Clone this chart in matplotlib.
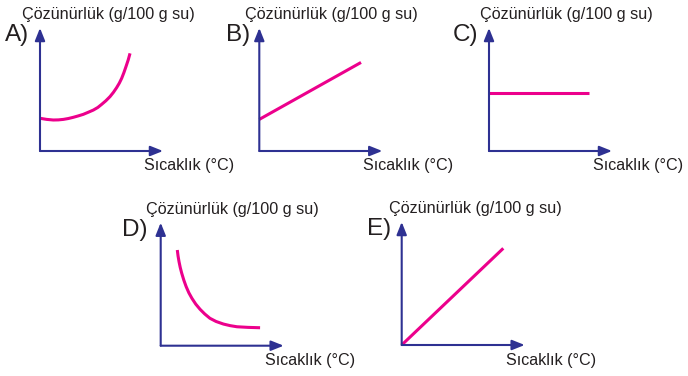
import numpy as np
import matplotlib.pyplot as plt

plt.rcParams['font.family'] = ['Liberation Sans', 'DejaVu Sans']

W, H = 688, 376
AXIS_BLUE = '#2E3192'
CURVE_PINK = '#EC008C'

# data (axis units 0..10)
panel_names = ['A', 'B', 'C', 'D', 'E']
ylabel_txt = 'Çözünürlük (g/100 g su)'
xlabel_txt = 'Sıcaklık (°C)'

a_x = [0, 0.54, 1.08, 1.5, 1.9, 2.3, 2.71, 3.1, 3.52, 3.9, 4.34, 4.7, 5.01,
       5.35, 5.69, 5.97, 6.23, 6.45, 6.64, 6.82, 6.99, 7.17, 7.32]
a_y = [2.66, 2.57, 2.52, 2.53, 2.57, 2.64, 2.74, 2.85, 2.98, 3.14, 3.33, 3.54, 3.79,
       4.08, 4.42, 4.77, 5.15, 5.52, 5.91, 6.37, 6.86, 7.4, 7.94]
b_x = [0, 8.27]
b_y = [2.57, 7.2]
c_x = [0, 8.13]
c_y = [4.7, 4.7]
d_x = [1.35, 1.41, 1.49, 1.59, 1.71, 1.88, 2.07, 2.29, 2.54, 2.85, 3.2, 3.58,
       4.0, 4.5, 5.1, 5.65, 6.2, 7.1, 8.08]
d_y = [7.78, 7.3, 6.83, 6.35, 5.89, 5.33, 4.8, 4.3, 3.85, 3.38, 2.96, 2.58,
       2.23, 1.97, 1.76, 1.63, 1.54, 1.49, 1.46]
e_x = [0, 8.26]
e_y = [0, 7.86]

curves = [(a_x, a_y), (b_x, b_y), (c_x, c_y), (d_x, d_y), (e_x, e_y)]

# layout: axis origin in pixels, plus text offsets
origins = [(40, 151), (259.3, 151), (489, 151), (160.7, 345.7), (401.7, 345)]
ylab_dx = [-18, -14, -9, -15, -13]
letter_dx = [-35, -33, -36, -39, -35]
AX_LEN = 123

fig = plt.figure(figsize=(W / 100, H / 100), dpi=100)

for i, name in enumerate(panel_names):
    x0, y0 = origins[i]
    ax = fig.add_axes([x0 / W, 1 - y0 / H, AX_LEN / W, AX_LEN / H])
    ax.set_xlim(0, 10)
    ax.set_ylim(0, 10)
    ax.axis('off')
    arrow = dict(arrowstyle='-|>,head_length=0.75,head_width=0.3',
                 color=AXIS_BLUE, lw=1.5, shrinkA=0, shrinkB=0)
    ax.annotate('', xy=(10, 0), xytext=(0, 0), arrowprops=arrow,
                annotation_clip=False)
    ax.annotate('', xy=(0, 10), xytext=(0, 0), arrowprops=arrow,
                annotation_clip=False)
    cx, cy = curves[i]
    ax.plot(cx, cy, color=CURVE_PINK, lw=2.2, solid_capstyle='butt',
            solid_joinstyle='round', clip_on=False)

    fig.text((x0 + ylab_dx[i]) / W, 1 - (y0 - 136) / H, ylabel_txt,
             fontsize=11.6, ha='left', va='center', color='#231F20')
    fig.text((x0 + 104) / W, 1 - (y0 + 15) / H, xlabel_txt,
             fontsize=11.6, ha='left', va='center', color='#231F20')
    fig.text((x0 + letter_dx[i]) / W, 1 - (y0 - 116) / H, name + ')',
             fontsize=17.5, ha='left', va='center', color='#231F20')

fig.savefig('out.png', dpi=100)
